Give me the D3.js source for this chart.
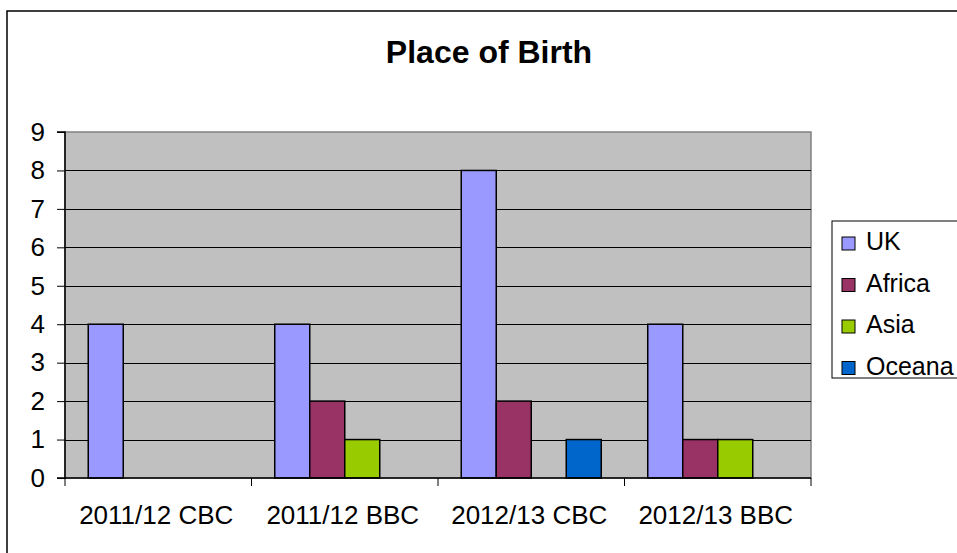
<!DOCTYPE html>
<html><head><meta charset="utf-8">
<script src="https://cdn.jsdelivr.net/npm/d3@7"></script>
<style>html,body{margin:0;padding:0;background:#fff;overflow:hidden}</style>
</head><body><svg id="c" width="957" height="553"></svg>
<script>
const categories = ["2011/12 CBC", "2011/12 BBC", "2012/13 CBC", "2012/13 BBC"];
const seriesNames = ["UK", "Africa", "Asia", "Oceana"];
const UK =     [4, 4, 8, 4];
const Africa = [0, 2, 2, 1];
const Asia =   [0, 1, 0, 1];
const Oceana = [0, 0, 1, 0];
const colors = ["#9999FF", "#993366", "#99CC00", "#0066CC"];
const yTicks = [0,1,2,3,4,5,6,7,8,9];
const seriesValues = [UK, Africa, Asia, Oceana];

const svg = d3.select("#c");
const font = "Arial, 'Liberation Sans', sans-serif";
// outer border
svg.append("rect").attr("x",7).attr("y",11).attr("width",1000).attr("height",600)
  .attr("fill","#fff").attr("stroke","#000").attr("stroke-width",1.5);

const L=65, R=811, T=132, B=478;
const x0 = d3.scaleBand().domain(categories).range([L,R]).padding(0);
const x1 = d3.scaleBand().domain(seriesNames).range([0,x0.bandwidth()]).paddingInner(0).paddingOuter(0.664);
const y = d3.scaleLinear().domain([0,9]).range([B,T]);

svg.append("rect").attr("x",L).attr("y",T).attr("width",R-L).attr("height",B-T)
  .attr("fill","#C0C0C0").attr("stroke","#808080").attr("stroke-width",1.5);

// gridlines
svg.append("g").selectAll("line").data(yTicks.filter(d=>d>0&&d<9)).join("line")
  .attr("x1",L).attr("x2",R).attr("y1",d=>Math.round(y(d))+0.5).attr("y2",d=>Math.round(y(d))+0.5)
  .attr("stroke","#000").attr("stroke-width",1);

// bars
categories.forEach((c,ci)=>{
  seriesNames.forEach((s,si)=>{
    const v = seriesValues[si][ci];
    if(v<=0) return;
    svg.append("rect").attr("x",x0(c)+x1(s)).attr("y",y(v))
      .attr("width",x1.bandwidth()).attr("height",y(0)-y(v))
      .attr("fill",colors[si]).attr("stroke","#000").attr("stroke-width",1.5);
  });
});

// y axis
const yAxis = d3.axisLeft(y).tickValues(yTicks).tickSize(8).tickPadding(12).tickFormat(d3.format("d"));
const gy = svg.append("g").attr("transform",`translate(${L},0)`).call(yAxis);
gy.attr("font-size",null).attr("font-family",null);
gy.select(".domain").attr("stroke","#000").attr("stroke-width",1.5).attr("d",`M-8,${T}H0V${B}H-8`);
gy.selectAll(".tick line").attr("stroke","#000");
gy.selectAll("text").attr("font-family",font).attr("font-size",26).attr("fill","#000");

// x axis
const gx = svg.append("g").attr("transform",`translate(0,${B})`);
gx.append("line").attr("x1",L).attr("x2",R).attr("y1",0).attr("y2",0).attr("stroke","#000").attr("stroke-width",1.5);
const tickPos = categories.map(c=>x0(c)).concat([x0.range()[1]]);
gx.selectAll("line.t").data(tickPos).join("line").attr("class","t")
  .attr("x1",d=>d).attr("x2",d=>d).attr("y1",0).attr("y2",8).attr("stroke","#000");
gx.selectAll("text").data(categories).join("text")
  .attr("x",d=>x0(d)+x0.bandwidth()/2 - 2).attr("y",46).attr("text-anchor","middle")
  .attr("font-family",font).attr("font-size",26).attr("fill","#000").text(d=>d);

// title
svg.append("text").attr("x",489).attr("y",63).attr("text-anchor","middle")
  .attr("font-family",font).attr("font-size",32).attr("font-weight","bold").text("Place of Birth");

// legend
svg.append("rect").attr("x",832).attr("y",221).attr("width",200).attr("height",157)
  .attr("fill","#fff").attr("stroke","#000").attr("stroke-width",1);
const lg = svg.append("g").selectAll("g").data(seriesNames).join("g")
  .attr("transform",(d,i)=>`translate(842,${250+i*41.5})`);
lg.append("rect").attr("x",0).attr("y",-13).attr("width",13).attr("height",13)
  .attr("fill",(d,i)=>colors[i]).attr("stroke","#000").attr("stroke-width",1);
lg.append("text").attr("x",24).attr("y",0).attr("font-family",font).attr("font-size",25).text(d=>d);
</script></body></html>
